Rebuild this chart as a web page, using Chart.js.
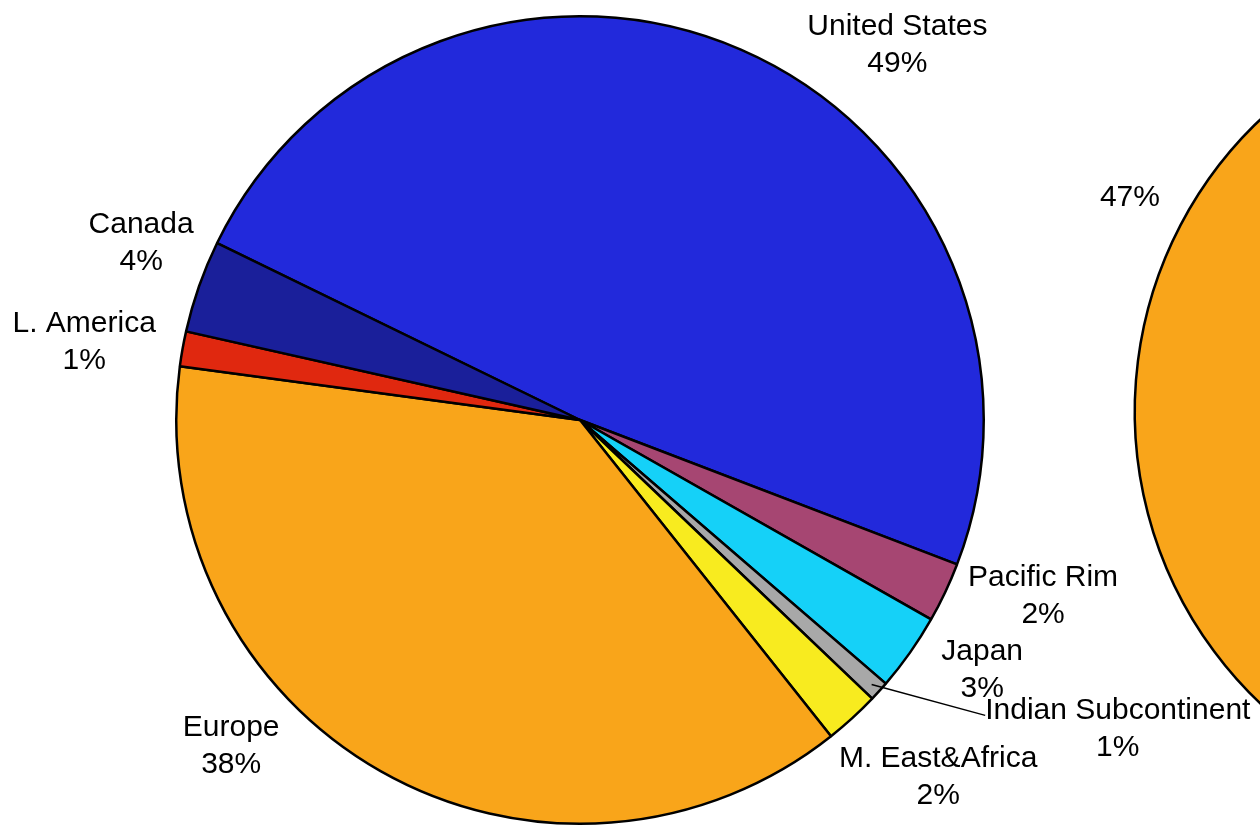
<!DOCTYPE html>
<html>
<head>
<meta charset="utf-8">
<script src="https://cdn.jsdelivr.net/npm/chart.js@4/dist/chart.umd.min.js"></script>
<style>
  html, body { margin: 0; padding: 0; background: #fff; overflow: hidden; }
  #wrap { position: relative; width: 1260px; height: 828px; overflow: hidden; }
  #pieSide { position: absolute; left: 957px; top: -8px; }
  #pieMain { position: absolute; left: 0; top: 0; }
</style>
</head>
<body>
<div id="wrap">
  <canvas id="pieSide" width="1160" height="828"></canvas>
  <canvas id="pieMain" width="1260" height="828"></canvas>
</div>
<script>
// main pie: regional shares (%), clockwise from the Canada / US boundary
const regions = ["United States", "Pacific Rim", "Japan", "Indian Subcontinent", "M. East&Africa", "Europe", "L. America", "Canada"];
const shares = [48.6, 2.4, 3.1, 0.8, 2.2, 37.8, 1.4, 3.7];
const regionColors = ["#2229DB", "#A64672", "#15D1F8", "#A8A8A8", "#F8EB1F", "#F9A51A", "#E0280F", "#1A1F9A"];

// second pie, only its left part is on screen
const sideLabels = ["", ""];
const sideShares = [47, 53];
const sideColors = ["#F9A51A", "#2229DB"];

// label centres, relative to pie centre in units of radius
const labelPos = [
  [0.786, -0.929], [1.147, 0.437], [0.996, 0.619], [1.332, 0.765],
  [0.887, 0.884], [-0.864, 0.807], [-1.228, -0.193], [-1.087, -0.439]
];
const sideLabelPos = [[-1.012, -0.532], null];
const leaderLines = [3]; // Indian Subcontinent

const FONT = "30px 'Liberation Sans', Arial, sans-serif";
const LINE_H = 37;

function labelPlugin(names, values, pos, leaders) {
  return {
    id: "outLabels",
    afterDatasetsDraw(chart) {
      const ctx = chart.ctx;
      const arcs = chart.getDatasetMeta(0).data;
      ctx.save();
      ctx.font = FONT;
      ctx.fillStyle = "#000";
      ctx.textAlign = "center";
      ctx.textBaseline = "middle";
      arcs.forEach((arc, i) => {
        if (!pos[i]) return;
        const r = arc.outerRadius;
        const cx = arc.x + pos[i][0] * r;
        const cy = arc.y + pos[i][1] * r;
        const pct = Math.round(values[i]) + "%";
        const lines = names[i] ? [names[i], pct] : [pct];
        const top = cy - (lines.length - 1) * LINE_H / 2;
        lines.forEach((t, k) => ctx.fillText(t, cx, top + k * LINE_H));

        if (leaders.includes(i)) {
          const mid = (arc.startAngle + arc.endAngle) / 2;
          const w = ctx.measureText(lines[0]).width;
          ctx.strokeStyle = "#000";
          ctx.lineWidth = 1.5;
          ctx.beginPath();
          ctx.moveTo(arc.x + Math.cos(mid) * r * 0.975, arc.y + Math.sin(mid) * r * 0.975);
          ctx.lineTo(cx - w / 2, top + 5);
          ctx.stroke();
        }
      });
      ctx.restore();
    }
  };
}

function makePie(id, labels, data, colors, rotation, padding, plugin) {
  return new Chart(document.getElementById(id), {
    type: "pie",
    data: {
      labels: labels,
      datasets: [{
        data: data,
        backgroundColor: colors,
        borderColor: "#000",
        borderWidth: 2.5,
      }],
    },
    options: {
      responsive: false,
      animation: false,
      rotation: rotation,
      layout: { padding: padding },
      plugins: {
        legend: { display: false },
        tooltip: { enabled: false },
      },
    },
    plugins: [plugin],
  });
}

makePie("pieSide", sideLabels, sideShares, sideColors, 213,
  { top: 16, bottom: 5, left: 0, right: 0 },
  labelPlugin(sideLabels, sideShares, sideLabelPos, []));
makePie("pieMain", regions, shares, regionColors, -64,
  { top: 15, bottom: 3, left: 0, right: 100 },
  labelPlugin(regions, shares, labelPos, leaderLines));
</script>
</body>
</html>
